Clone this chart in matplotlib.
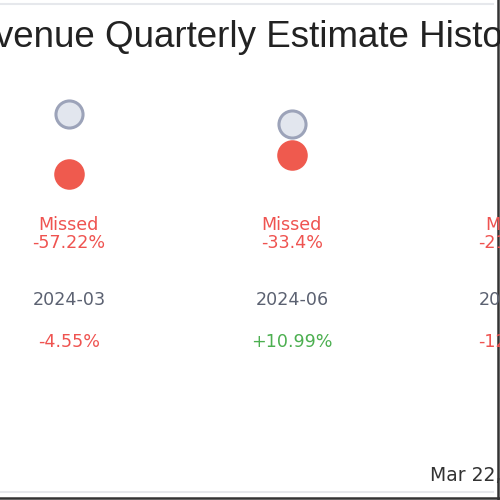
import numpy as np
import matplotlib.pyplot as plt
import matplotlib.transforms as mtransforms

# revenue estimate history (arbitrary units)
quarters = ['2024-03', '2024-06', '2024-09']
estimates = [10.4, 9.4, 8.8]
actuals = [4.45, 6.26, 6.9]
surprise = ['-57.22%', '-33.4%', '-21.35%']
result = ['Missed', 'Missed', 'Missed']
price_chg = ['-4.55%', '+10.99%', '-12.07%']
date_label = 'Mar 22, 2025'
title = 'Revenue Quarterly Estimate History'

RED = '#ef5350'
GREEN = '#4caf50'
GRAY_TXT = '#5b6171'

fig = plt.figure(figsize=(5, 5), dpi=100)
ax = fig.add_axes([0, 0, 1, 1])
ax.set_axis_off()

x = np.arange(len(quarters))
ax.set_xlim(-0.309, 1.933)
ax.set_ylim(-28.2, 21.8)

ax.plot(x, estimates, 'o', ms=19.5, mfc='#e2e6ee', mec='#9ca3b9', mew=2.2,
        ls='none', clip_on=False, zorder=3)
ax.plot(x, actuals, 'o', ms=22, mfc='#ef5a4e', mec='none',
        ls='none', clip_on=False, zorder=3)

# text rows: x from data, y in axes fraction
trans = mtransforms.blended_transform_factory(ax.transData, ax.transAxes)
small = dict(family='DejaVu Sans', fontsize=12.6, ha='center', va='baseline',
             transform=trans)
for i in range(len(quarters)):
    ax.text(x[i], 1 - 230/500, result[i], color=RED, **small)
    ax.text(x[i], 1 - 248/500, surprise[i], color=RED, **small)
    ax.text(x[i], 1 - 305/500, quarters[i], color=GRAY_TXT, **small)
    c = GREEN if price_chg[i].startswith('+') else RED
    ax.text(x[i], 1 - 347/500, price_chg[i], color=c, **small)

fig.text(241/500, 1 - 47/500, title, family='Liberation Sans', fontsize=26.5,
         color='#222222', ha='center', va='baseline')
fig.text(430/500, 1 - 481/500, date_label, family='DejaVu Sans', fontsize=13.5,
         color='#333333', ha='left', va='baseline')

# frame lines of the cropped card
ax.plot([0, 493/500], [1 - 4/500, 1 - 4/500], color='#e6e8ec', lw=1.5,
        transform=ax.transAxes, clip_on=False)
ax.plot([0, 493/500], [1 - 492/500, 1 - 492/500], color='#e6e8ec', lw=1.5,
        transform=ax.transAxes, clip_on=False)
ax.plot([498/500, 498/500], [0, 1], color='#333333', lw=1.8,
        transform=ax.transAxes, clip_on=False)
ax.plot([0, 1], [1 - 498/500, 1 - 498/500], color='#333333', lw=1.8,
        transform=ax.transAxes, clip_on=False)

fig.savefig('out.png', dpi=100, facecolor='white')
